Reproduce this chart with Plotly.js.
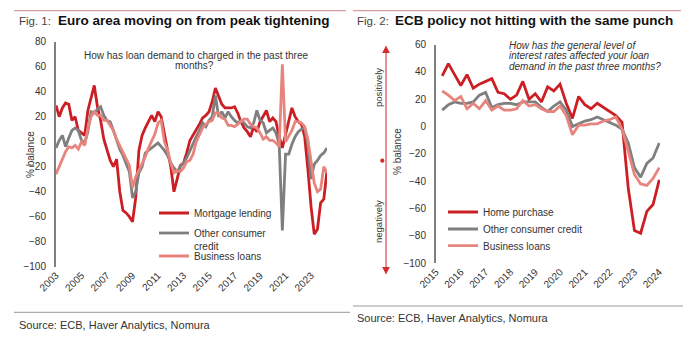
<!DOCTYPE html>
<html><head><meta charset="utf-8">
<script src="https://cdn.plot.ly/plotly-3.0.1.min.js"></script>
<style>html,body{margin:0;padding:0;background:#fff;}#chart{width:700px;height:338px;}</style>
</head><body><div id="chart"></div>
<script>
// ---------- Fig. 1 data (quarterly, from 2003Q1) ----------
const leftStartYear = 2003;
const leftTickYears = [2003, 2005, 2007, 2009, 2011, 2013, 2015, 2017, 2019, 2021, 2023];
const mortgageLending = [
  29, 20, 27, 31,   30, 17, 20, 9,    7, 5, 25, 34,     45, 28, 17, 2,
  -7, -15, -20, -14, -40, -55, -57, -60, -64, -45, -7, 5, 11, 16, 21, 16,
  24, 20, 5, -7,    -20, -40, -30, -19, -17, -9, 1, 5,  9, 14, 19, 21,
  24, 32, 43, 37,   30, 27, 27, 27,   28, 23, 16, 11,   8, 4, 12, 8,
  16, 20, 25, 16,   19, 16, 4, -5,    6, 15, 27, 20,    16, 14, 4, -22,
  -52, -74, -70, -49, -46, -23
];
const otherConsumerCredit = [
  -5, 1, 5, -4,     3, 9, 11, 9,      1, -1, 8, 24,     23, 26, 28, 21,
  17, 16, 9, 2,     -6, -11, -18, -24, -45, -40, -25, -20, -9, -7, -5, -3,
  -1, -4, -7, -11,  -17, -21, -24, -20, -17, -13, -7, -2, 4, 9, 15, 12,
  17, 20, 37, 20,   24, 19, 24, 20,   17, 15, 17, 15,   12, 11, 15, 25,
  17, 15, 7, 9,     11, 7, -2, -71,   -10, -10, -2, 4,  8, 10, 11, -2,
  -30, -18, -15, -11, -9, -5
];
const businessLoans = [
  -26, -20, -15, -8, -4, -5, -3, -6,  0, -3, 11, 20,    24, 21, 21, 17,
  17, 13, 9, 2,     -3, -9, -13, -19, -37, -28, -23, -18, -12, -5, 0, 6,
  15, 17, 0, -7,    -17, -25, -23, -24, -21, -16, -15, -10, 0, 6, 11, 14,
  16, 17, 23, 23,   19, 18, 13, 13,   12, 14, 16, 18,   18, 14, 12, 11,
  7, 2, 4, 1,       1, -1, -4, 62,    0, 4, 9, 16,      16, 15, 12, 2,
  -15, -33, -40, -38, -20, -25
];

// ---------- Fig. 2 data (quarterly) ----------
const rightStartYear = 2015.25;
const rightTickYears = [2015, 2016, 2017, 2018, 2019, 2020, 2021, 2022, 2023, 2024];
const homePurchase = [
  37, 46, 38, 30, 38, 28, 31, 33, 35, 25, 24, 20,
  23, 33, 20, 24, 18, 29, 26, 31, 17, 6, 22, 16,
  13, 17, 14, 11, 8, 3, -45, -76, -78, -62, -57, -39
];
const consumerCreditR = [
  12, 16, 18, 17, 17, 18, 23, 25, 14, 16, 17, 17,
  16, 18, 18, 18, 14, 11, 15, 18, 12, 0, 2, 4,
  5, 7, 5, 3, 1, -2, -12, -30, -37, -27, -23, -12
];
const businessLoansR = [
  26, 23, 19, 22, 13, 17, 13, 19, 12, 15, 12, 12,
  13, 19, 15, 16, 13, 11, 11, 15, 8, -6, 1, 1,
  2, 2, 4, 5, 7, -2, -18, -35, -42, -43, -38, -30
];
const yTicksLeft = [80, 60, 40, 20, 0, -20, -40, -60, -80, -100];
const yTicksRight = [60, 40, 20, 0, -20, -40, -60, -80, -100];

// ---------- helpers ----------
const W = 700, H = 338;
const fx = p => p / W;
const fy = p => 1 - p / H;
const FONT = 'Liberation Sans, Arial, sans-serif';
const DARKRED = '#cc1f24', GREY = '#7f7f7f', PINK = '#e8847e';
const leftX = mortgageLending.map((_, i) => leftStartYear + i * 0.25);
const rightX = homePurchase.map((_, i) => rightStartYear + i * 0.25);

const yDomL = [fy(266.7), fy(41.7)], yRangeL = [-100, 80];
const yDomR = [fy(263.3), fy(44.5)], yRangeR = [-100, 60];
const zeroPos = (d, r) => d[0] + (0 - r[0]) / (r[1] - r[0]) * (d[1] - d[0]);

const lw = 2.8;
const traces = [
  {x: leftX, y: mortgageLending, name: 'Mortgage lending', xaxis: 'x', yaxis: 'y', legend: 'legend',
   line: {color: DARKRED, width: lw}},
  {x: leftX, y: otherConsumerCredit, name: 'Other consumer<br>credit', xaxis: 'x', yaxis: 'y', legend: 'legend2',
   line: {color: GREY, width: lw}},
  {x: leftX, y: businessLoans, name: 'Business loans', xaxis: 'x', yaxis: 'y', legend: 'legend3',
   line: {color: PINK, width: lw}},
  {x: rightX, y: homePurchase, name: 'Home purchase', xaxis: 'x2', yaxis: 'y2', legend: 'legend4',
   line: {color: DARKRED, width: lw}},
  {x: rightX, y: consumerCreditR, name: 'Other consumer credit', xaxis: 'x2', yaxis: 'y2', legend: 'legend5',
   line: {color: GREY, width: lw}},
  {x: rightX, y: businessLoansR, name: 'Business loans', xaxis: 'x2', yaxis: 'y2', legend: 'legend6',
   line: {color: PINK, width: lw}}
].map(t => Object.assign({type: 'scatter', mode: 'lines', hoverinfo: 'skip', showlegend: true}, t));

const tickFont = {family: FONT, size: 10, color: '#333'};
const legendBase = (xp, yp, extra) => Object.assign({
  x: fx(xp), y: fy(yp), xanchor: 'left', yanchor: 'middle', bgcolor: 'rgba(0,0,0,0)',
  font: {family: FONT, size: 10, color: '#333'}, itemclick: false, itemdoubleclick: false
}, extra || {});

const ann = (text, xp, yp, o) => Object.assign({
  text: text, x: fx(xp), y: fy(yp), xref: 'paper', yref: 'paper', showarrow: false,
  xanchor: 'left', yanchor: 'middle', font: {family: FONT, size: 10, color: '#333'}
}, o || {});

const layout = {
  width: W, height: H, margin: {l: 0, r: 0, t: 0, b: 0}, showlegend: true,
  paper_bgcolor: '#fff', plot_bgcolor: 'rgba(0,0,0,0)',
  xaxis: {domain: [fx(56), fx(327)], range: [2003, 2024.25], anchor: 'y',
    tickvals: leftTickYears, ticktext: leftTickYears.map(String), tickangle: -45,
    ticks: '', showline: false, showgrid: false, zeroline: false, tickfont: tickFont, fixedrange: true},
  yaxis: {domain: yDomL, range: yRangeL, anchor: 'x', tickvals: yTicksLeft,
    showline: true, linecolor: '#7f7f7f', linewidth: 2, ticks: '', showgrid: false, zeroline: false,
    tickfont: tickFont, ticklabelstandoff: 6, fixedrange: true},
  xaxis3: {overlaying: 'x', anchor: 'free', position: zeroPos(yDomL, yRangeL), range: [2003, 2024.25],
    tickvals: leftTickYears, showticklabels: false, ticks: 'outside', ticklen: 3, tickwidth: 1.2,
    tickcolor: '#555', showline: true, linecolor: '#7f7f7f', linewidth: 2, showgrid: false,
    zeroline: false, layer: 'below traces', fixedrange: true},
  xaxis2: {domain: [fx(436), fx(660)], range: [2015, 2024.03], anchor: 'y2',
    tickvals: rightTickYears, ticktext: rightTickYears.map(String), tickangle: -45,
    ticks: '', showline: false, showgrid: false, zeroline: false, tickfont: tickFont, fixedrange: true},
  yaxis2: {domain: yDomR, range: yRangeR, anchor: 'x2', tickvals: yTicksRight,
    showline: true, linecolor: '#7f7f7f', linewidth: 2, ticks: '', showgrid: false, zeroline: false,
    tickfont: tickFont, ticklabelstandoff: 6, fixedrange: true},
  xaxis4: {overlaying: 'x2', anchor: 'free', position: zeroPos(yDomR, yRangeR), range: [2015, 2024.03],
    tickvals: rightTickYears, showticklabels: false, ticks: 'outside', ticklen: 3, tickwidth: 1.2,
    tickcolor: '#555', showline: true, linecolor: '#7f7f7f', linewidth: 2, showgrid: false,
    zeroline: false, layer: 'below traces', fixedrange: true},
  legend: legendBase(154, 213),
  legend2: legendBase(154, 239.5, {valign: 'top'}),
  legend3: legendBase(154, 256),
  legend4: legendBase(443, 212),
  legend5: legendBase(443, 229),
  legend6: legendBase(443, 245.7),
  annotations: [
    ann('Fig. 1:', 17, 20.5, {font: {family: FONT, size: 11.5, color: '#444'}}),
    ann('<b>Euro area moving on from peak tightening</b>', 56, 20.5, {font: {family: FONT, size: 13.5, color: '#111'}}),
    ann('Fig. 2:', 355, 20.5, {font: {family: FONT, size: 11.5, color: '#444'}}),
    ann('<b>ECB policy not hitting with the same punch</b>', 393, 20.5, {font: {family: FONT, size: 13.5, color: '#111'}}),
    ann('How has loan demand to charged in the past three', 196, 55, {xanchor: 'center'}),
    ann('months?', 194, 65.5, {xanchor: 'center'}),
    ann('<i>How has the general level of</i>', 507, 45.5),
    ann('<i>interest rates affected your loan</i>', 507, 56),
    ann('<i>demand in the past three months?</i>', 507, 66.7),
    ann('% balance', 30, 155, {xanchor: 'center', textangle: -90}),
    ann('% balance', 397, 152, {xanchor: 'center', textangle: -90}),
    ann('positively', 378, 88, {xanchor: 'center', textangle: -90, font: {family: FONT, size: 9.5, color: '#333'}}),
    ann('negatively', 378, 222, {xanchor: 'center', textangle: -90, font: {family: FONT, size: 9.5, color: '#333'}}),
    ann('Source: ECB, Haver Analytics, Nomura', 17, 325, {font: {family: FONT, size: 11, color: '#333'}}),
    ann('Source: ECB, Haver Analytics, Nomura', 355, 318, {font: {family: FONT, size: 11, color: '#333'}})
  ],
  shapes: [
    {type: 'line', xref: 'paper', yref: 'paper', x0: fx(14), x1: fx(346), y0: fy(10.7), y1: fy(10.7), line: {color: '#d08585', width: 1}},
    {type: 'line', xref: 'paper', yref: 'paper', x0: fx(353), x1: fx(681), y0: fy(10.7), y1: fy(10.7), line: {color: '#d08585', width: 1}},
    {type: 'line', xref: 'paper', yref: 'paper', x0: fx(14), x1: fx(350), y0: fy(312.3), y1: fy(312.3), line: {color: '#9a9a9a', width: 1}},
    {type: 'line', xref: 'paper', yref: 'paper', x0: fx(353), x1: fx(683), y0: fy(306), y1: fy(306), line: {color: '#9a9a9a', width: 1}},
    {type: 'line', xref: 'paper', yref: 'paper', x0: fx(386), x1: fx(386), y0: fy(51), y1: fy(269), line: {color: '#e06a6a', width: 1.5}},
    {type: 'path', xref: 'paper', yref: 'paper',
     path: `M${fx(386)},${fy(45.5)} L${fx(382.2)},${fy(53)} L${fx(389.8)},${fy(53)} Z`, fillcolor: '#d42a2a', line: {width: 0}},
    {type: 'path', xref: 'paper', yref: 'paper',
     path: `M${fx(386)},${fy(274.5)} L${fx(382.2)},${fy(267)} L${fx(389.8)},${fy(267)} Z`, fillcolor: '#d42a2a', line: {width: 0}},
    {type: 'circle', xref: 'paper', yref: 'paper', x0: fx(380.2), x1: fx(384.4), y0: fy(162.8), y1: fy(158.6), fillcolor: '#d42a2a', line: {width: 0}}
  ]
};

Plotly.newPlot('chart', traces, layout, {displayModeBar: false, staticPlot: true});
</script></body></html>
